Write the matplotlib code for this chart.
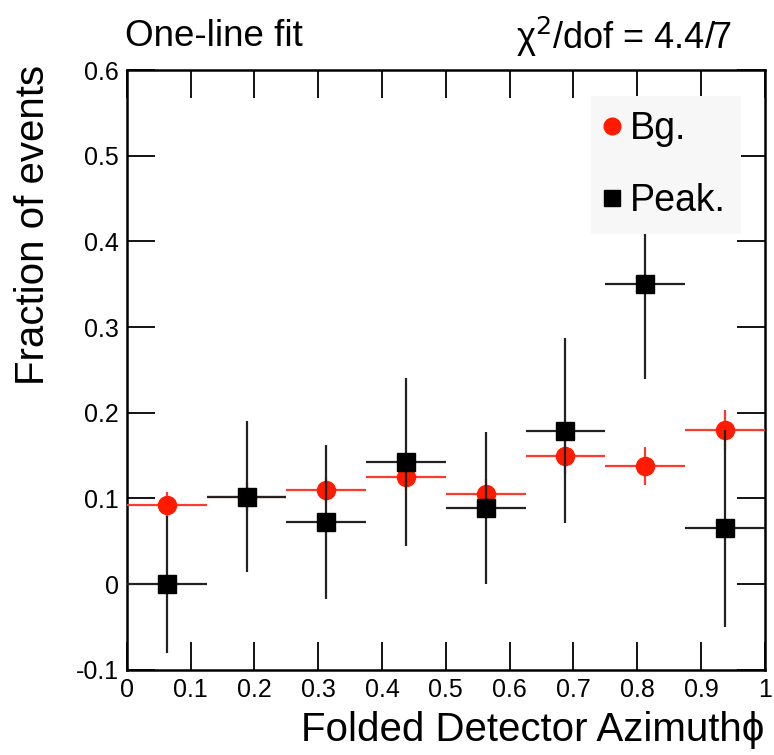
import matplotlib
matplotlib.use("Agg")
import matplotlib.pyplot as plt
from matplotlib.lines import Line2D
import numpy as np

plt.rcParams['font.family'] = ['Liberation Sans', 'DejaVu Sans']

bin_edges = [0.0, 0.125, 0.25, 0.375, 0.5, 0.625, 0.75, 0.875, 1.0]
bg_vals = [0.092, 0.102, 0.110, 0.125, 0.105, 0.149, 0.138, 0.180]
bg_errs = [0.015, 0.017, 0.015, 0.016, 0.018, 0.020, 0.022, 0.023]
peak_vals = [0.000, 0.102, 0.072, 0.143, 0.089, 0.179, 0.350, 0.065]
peak_errs = [0.080, 0.088, 0.090, 0.098, 0.089, 0.108, 0.110, 0.115]

xticks = [0, 0.1, 0.2, 0.3, 0.4, 0.5, 0.6, 0.7, 0.8, 0.9, 1]
xticklabels = ["0", "0.1", "0.2", "0.3", "0.4", "0.5", "0.6", "0.7", "0.8", "0.9", "1"]
yticks = [-0.1, 0, 0.1, 0.2, 0.3, 0.4, 0.5, 0.6]
yticklabels = ["-0.1", "0", "0.1", "0.2", "0.3", "0.4", "0.5", "0.6"]

edges = np.array(bin_edges)
centers = (edges[:-1] + edges[1:]) / 2
halfw = (edges[1:] - edges[:-1]) / 2

fig = plt.figure(figsize=(7.74, 7.55), dpi=100)
ax = fig.add_axes([0.164, 0.113, 0.824, 0.794])

ax.errorbar(centers, bg_vals, xerr=halfw, yerr=bg_errs, fmt='o', color='#ff1a00',
            ecolor='#ff3a2a', elinewidth=1.6, markersize=13, capsize=0, zorder=3)
ax.errorbar(centers, peak_vals, xerr=halfw, yerr=peak_errs, fmt='s', color='black',
            ecolor='#222222', elinewidth=1.6, markersize=13, capsize=0, zorder=4)

ax.set_xlim(0, 1)
ax.set_ylim(-0.1, 0.6)
ax.set_xticks(xticks)
ax.set_xticklabels(xticklabels)
ax.set_yticks(yticks)
ax.set_yticklabels(yticklabels)
ax.tick_params(direction='in', length=20, width=1.3, top=True, right=True,
               labelsize=18, pad=6)
for s in ax.spines.values():
    s.set_linewidth(1.8)

fig.text(0.988, 0.033, "Folded Detector Azimuth\u03d5", fontsize=29, ha='right', va='center')
fig.text(0.043, 0.914, "Fraction of events", fontsize=29, rotation=90, ha='center', va='top')

fig.text(0.161, 0.951, "One-line fit", fontsize=26.5, va='center', ha='left')
fig.text(0.946, 0.951, "\u03c7$^{2}$/dof = 4.4/7", fontsize=26, va='center', ha='right')

handles = [Line2D([], [], marker='o', color='#ff1a00', linestyle='none', markersize=12),
           Line2D([], [], marker='s', color='black', linestyle='none', markersize=11)]
leg = ax.legend(handles, ['Bg.', 'Peak.'], loc='upper right', bbox_to_anchor=(0.9624, 0.9567),
                fontsize=27, frameon=True, fancybox=False, handlelength=0.32,
                handletextpad=0.32, labelspacing=0.95, borderpad=0.4, borderaxespad=0)
leg.get_frame().set_facecolor('#f7f7f7')
leg.get_frame().set_edgecolor('none')
leg.get_frame().set_alpha(1)
leg.set_zorder(10)

fig.savefig("out.png", dpi=100)
